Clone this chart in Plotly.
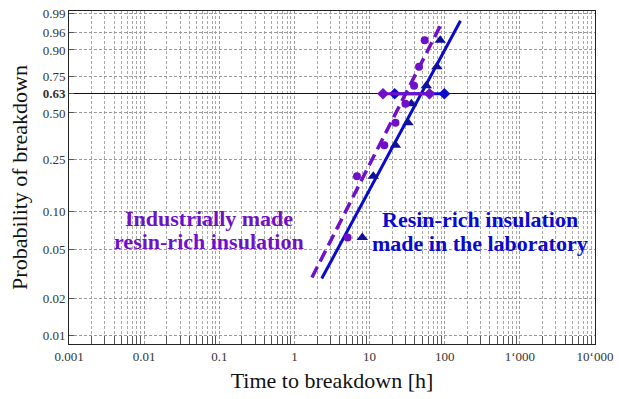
import numpy as np
import plotly.graph_objects as go

# Weibull probability plot: time to breakdown of two insulation types
prob = [0.0625, 0.1875, 0.3125, 0.4375, 0.5625, 0.6875, 0.8125, 0.9375]
t_industrial = [5.1, 6.8, 15.7, 22.1, 30.0, 39.1, 45.5, 54.1]
t_laboratory = [8.0, 11.2, 22.1, 32.5, 36.0, 56.9, 78.7, 87.1]

# fitted Weibull lines (end points)
fit_ind_t = [1.71, 92.5]
fit_ind_p = [0.0297, 0.980]
fit_lab_t = [2.31, 162.0]
fit_lab_p = [0.0291, 0.982]

# 90 % confidence bounds of the characteristic life (F = 63.2 %)
eta_ind_bounds = [15.1, 62.8]
eta_lab_bounds = [21.6, 99.0]
eta_prob = 0.632

y_tick_probs = [0.01, 0.02, 0.05, 0.10, 0.25, 0.50, 0.632, 0.75, 0.90, 0.96, 0.99]
y_tick_text = ["0.01", "0.02", "0.05", "0.10", "0.25", "0.50", "<b>0.63</b>",
               "0.75", "0.90", "0.96", "0.99"]
x_tick_vals = [0.001, 0.01, 0.1, 1, 10, 100, 1000, 10000]
x_tick_text = ["0.001", "0.01", "0.1", "1", "10", "100", "1\u2018000", "10\u2018000"]

industrial_label = ["Industrially made", "resin-rich insulation"]
laboratory_label = ["Resin-rich insulation", "made in the laboratory"]

PURPLE = "#7010C8"
BLUE = "#0A0ACC"
NAVY = "#10109A"


def weib(p):
    p = np.asarray(p, dtype=float)
    return np.log(-np.log(1.0 - p))


minor_vals = [m * 10.0 ** e for e in range(-3, 4) for m in range(2, 10)]

fig = go.Figure()

fig.add_trace(go.Scatter(
    x=fit_lab_t, y=weib(fit_lab_p), mode="lines",
    line=dict(color=BLUE, width=3), showlegend=False))
fig.add_trace(go.Scatter(
    x=fit_ind_t, y=weib(fit_ind_p), mode="lines",
    line=dict(color=PURPLE, width=3.5, dash="12px,6px"), showlegend=False))

fig.add_trace(go.Scatter(
    x=eta_lab_bounds, y=weib([eta_prob] * 2), mode="lines+markers",
    line=dict(color=BLUE, width=3),
    marker=dict(symbol="diamond", size=9, color=BLUE), showlegend=False))
fig.add_trace(go.Scatter(
    x=eta_ind_bounds, y=weib([eta_prob] * 2), mode="lines+markers",
    line=dict(color=PURPLE, width=3),
    marker=dict(symbol="diamond", size=9, color=PURPLE), showlegend=False))

fig.add_trace(go.Scatter(
    x=t_laboratory, y=weib(prob), mode="markers",
    marker=dict(symbol="triangle-up", size=10, color=NAVY), showlegend=False))
fig.add_trace(go.Scatter(
    x=t_industrial, y=weib(prob), mode="markers",
    marker=dict(symbol="circle", size=8, color=PURPLE), showlegend=False))

# two-line bold labels, one annotation per line for tight line spacing
text_font = dict(family="Liberation Serif, Times New Roman, serif", size=22)
for line, ypos in zip(industrial_label, [0.376, 0.307]):
    fig.add_annotation(
        text=f"<b>{line}</b>", xref="paper", yref="paper", x=0.2665, y=ypos,
        showarrow=False, xanchor="center", yanchor="middle",
        font=dict(color=PURPLE, **text_font))
for line, ypos in zip(laboratory_label, [0.373, 0.302]):
    fig.add_annotation(
        text=f"<b>{line}</b>", xref="paper", yref="paper", x=0.781, y=ypos,
        showarrow=False, xanchor="center", yanchor="middle",
        font=dict(color=BLUE, **text_font))

serif = "Liberation Serif, Times New Roman, serif"
fig.update_layout(
    width=619, height=399,
    margin=dict(l=69, r=21, t=6, b=55),
    paper_bgcolor="white", plot_bgcolor="white",
    font=dict(family=serif, color="#333333"),
    xaxis=dict(
        type="log", range=[-3, 4],
        tickmode="array", tickvals=x_tick_vals, ticktext=x_tick_text,
        tickfont=dict(size=13, color="#333333"),
        showgrid=True, gridcolor="#9a9a9a", griddash="3px,2px", gridwidth=1,
        ticks="", showline=True, linecolor="#222222", linewidth=1, mirror=True,
        minor=dict(tickmode="array", tickvals=minor_vals, showgrid=True,
                   gridcolor="#a8a8a8", griddash="3px,2px", gridwidth=1,
                   ticks="inside", ticklen=8, tickcolor="#555555"),
        title=dict(text="Time to breakdown [h]", font=dict(size=22, color="#111111"),
                   standoff=10),
        zeroline=False,
    ),
    yaxis=dict(
        range=[-4.769, 1.576],
        tickmode="array", tickvals=list(weib(y_tick_probs)), ticktext=y_tick_text,
        tickfont=dict(size=13, color="#333333"),
        showgrid=True, gridcolor="#9a9a9a", griddash="3px,2px", gridwidth=1,
        ticks="inside", ticklen=5, tickcolor="#555555",
        showline=True, linecolor="#222222", linewidth=1, mirror=True,
        zeroline=True, zerolinecolor="#111111", zerolinewidth=1,
        title=dict(text="Probability of breakdown", font=dict(size=22, color="#111111"),
                   standoff=8),
    ),
)

fig.write_html("out.html")
